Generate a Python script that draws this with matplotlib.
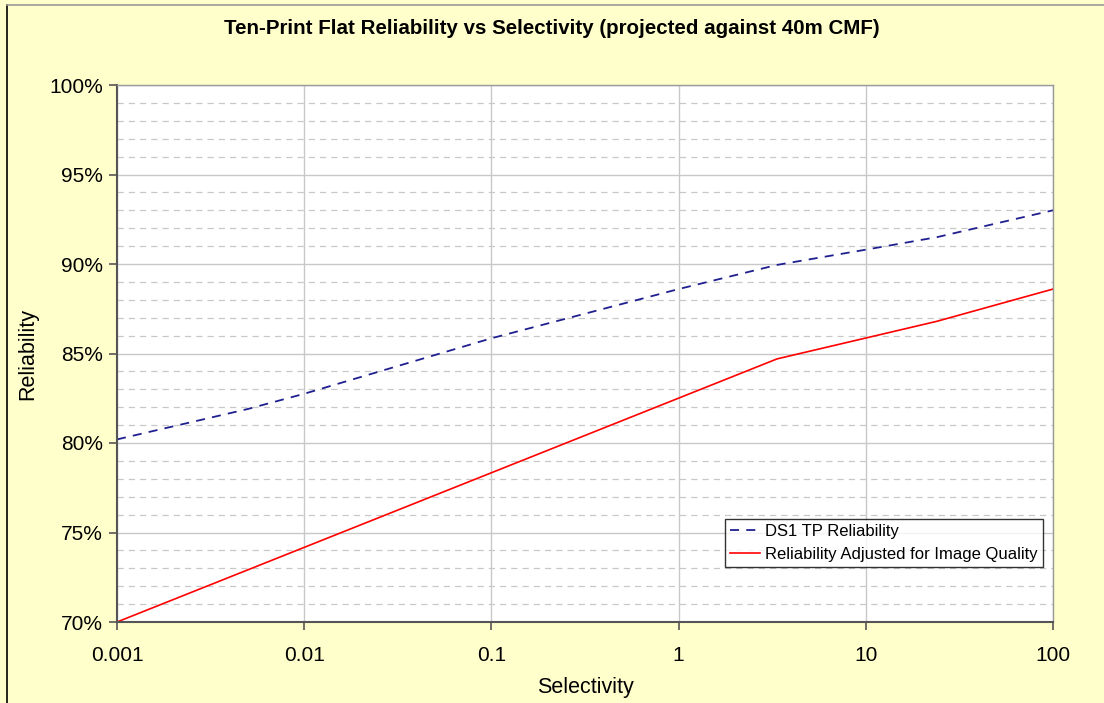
import matplotlib.pyplot as plt
from matplotlib.ticker import FixedLocator, MultipleLocator, PercentFormatter, FuncFormatter
from matplotlib.lines import Line2D

# data
ds1_x = [0.001, 0.005, 0.01, 0.1, 1, 3.36, 10, 24, 100]
ds1_y = [80.2, 81.9, 82.75, 85.85, 88.6, 89.95, 90.8, 91.5, 93.0]

adj_x = [0.001, 3.36, 24, 100]
adj_y = [70.0, 84.7, 86.8, 88.6]

x_ticks = [0.001, 0.01, 0.1, 1, 10, 100]
x_labels = ["0.001", "0.01", "0.1", "1", "10", "100"]

plt.rcParams['font.family'] = ['Liberation Sans', 'DejaVu Sans']

fig = plt.figure(figsize=(11.04, 7.03), dpi=100)
fig.patch.set_facecolor("#FFFFCC")

# chart area border (left black, top grey)
fig.add_artist(Line2D([7 / 1104, 7 / 1104], [0, 1 - 5 / 703], color="black", lw=1.2))
fig.add_artist(Line2D([7 / 1104, 1], [1 - 5 / 703, 1 - 5 / 703], color="#999999", lw=1.2))

ax = fig.add_axes([117 / 1104, 1 - 622 / 703, (1053 - 117) / 1104, (622 - 85) / 703])
ax.set_facecolor("white")

ax.plot(ds1_x, ds1_y, color="#1F1F8F", lw=1.3, linestyle=(0, (5, 4)), label="DS1 TP Reliability")
ax.plot(adj_x, adj_y, color="#FF0000", lw=1.2, label="Reliability Adjusted for Image Quality")

ax.set_xscale("log")
ax.set_xlim(0.001, 100)
ax.set_ylim(70, 100)
ax.xaxis.set_major_locator(FixedLocator(x_ticks))
ax.xaxis.set_major_formatter(FuncFormatter(lambda v, p: x_labels[x_ticks.index(min(x_ticks, key=lambda t: abs(t - v)))]))
ax.xaxis.set_minor_locator(FixedLocator([]))
ax.yaxis.set_major_locator(MultipleLocator(5))
ax.yaxis.set_minor_locator(MultipleLocator(1))
ax.yaxis.set_major_formatter(PercentFormatter(decimals=0))

ax.grid(True, which="major", axis="both", color="#C8C8C8", lw=1.0)
ax.grid(True, which="minor", axis="y", color="#C8C8C8", lw=0.9, linestyle=(0, (5, 4)))
ax.set_axisbelow(True)

ax.tick_params(axis="both", which="major", direction="out", length=6, width=1.2,
               color="#555555", labelsize=15, pad=4)
ax.tick_params(axis="y", which="minor", length=0)
ax.tick_params(axis="x", pad=11)

for s in ["left", "bottom"]:
    ax.spines[s].set_color("#555555")
    ax.spines[s].set_linewidth(1.5)
for s in ["top", "right"]:
    ax.spines[s].set_color("#999999")
    ax.spines[s].set_linewidth(1.0)

ax.set_xlabel("Selectivity", fontsize=15.5, labelpad=9)
ax.set_ylabel("Reliability", fontsize=15.5, labelpad=8)

fig.text(0.5, 1 - 28 / 703, "Ten-Print Flat Reliability vs Selectivity (projected against 40m CMF)",
         ha="center", va="center", fontsize=14.8, fontweight="bold")

leg = ax.legend(loc="lower right", bbox_to_anchor=(1043 / 1104, 1 - 567 / 703),
                bbox_transform=fig.transFigure, fontsize=12, frameon=True, fancybox=False,
                borderpad=0.3, labelspacing=0.5, handlelength=1.8, handletextpad=0.3,
                borderaxespad=0)
leg.get_frame().set_edgecolor("black")
leg.get_frame().set_linewidth(1.0)

fig.savefig("out.png", dpi=100, facecolor=fig.get_facecolor())
